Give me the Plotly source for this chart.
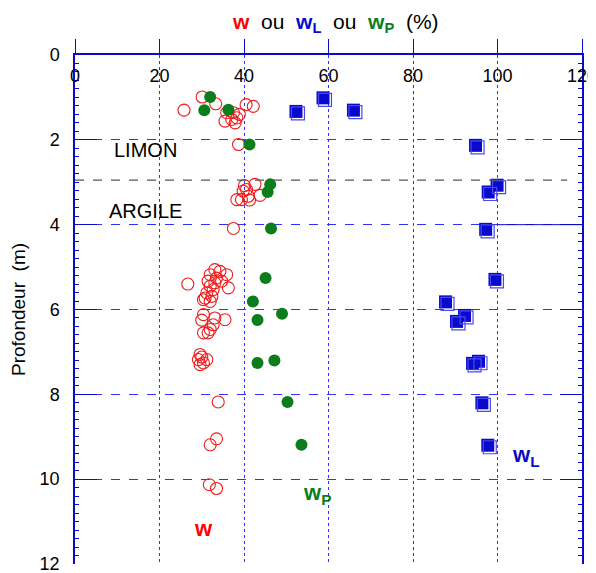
import plotly.graph_objects as go

# ---- data ----
w_val = [30.1, 25.8, 33.3, 40.5, 42.2, 35.9, 37.5, 35.5, 37.1, 38.3, 38.9, 37.9, 38.7,
         40.1, 42.6, 39.8, 40.6, 41.0, 43.8, 38.3, 39.4, 41.3, 37.5,
         26.7, 33.1, 34.3, 32.0, 35.9, 33.5, 31.5, 33.1, 34.7, 36.3, 32.0, 32.7, 31.2, 32.4, 30.8, 32.0, 30.4,
         30.4, 33.1, 35.5, 30.0, 32.7, 32.0, 30.4, 31.5,
         29.6, 30.0, 31.2, 29.2, 30.4, 29.6,
         33.9, 33.5, 32.0, 31.8, 33.5]
w_depth = [0.99, 1.30, 1.15, 1.17, 1.21, 1.36, 1.36, 1.56, 1.52, 1.48, 1.40, 1.60, 2.11,
           3.08, 3.05, 3.21, 3.17, 3.33, 3.31, 3.41, 3.41, 3.42, 4.09,
           5.40, 5.06, 5.10, 5.18, 5.18, 5.26, 5.33, 5.37, 5.33, 5.49, 5.45, 5.53, 5.61, 5.69, 5.73, 5.81, 5.77,
           6.12, 6.20, 6.24, 6.25, 6.36, 6.47, 6.55, 6.55,
           7.06, 7.12, 7.18, 7.18, 7.26, 7.30,
           8.18, 9.05, 9.19, 10.13, 10.22]

wp_val = [32.0, 30.6, 36.3, 41.3, 46.2, 45.6, 46.4, 45.1, 42.1, 49.0, 43.2, 43.2, 47.2, 50.3, 53.6]
wp_depth = [0.99, 1.30, 1.29, 2.11, 3.05, 3.23, 4.09, 5.26, 5.81, 6.10, 6.25, 7.26, 7.20, 8.18, 9.19]

wl_val = [52.3, 58.7, 65.9, 94.8, 99.9, 97.8, 97.2, 99.4, 87.7, 92.2, 90.3, 94.1, 95.5, 96.3, 97.7]
wl_depth = [1.33, 1.01, 1.30, 2.13, 3.07, 3.23, 4.11, 5.29, 5.82, 6.14, 6.28, 7.27, 7.22, 8.20, 9.20]

x_ticks = [0, 20, 40, 60, 80, 100, 120]
y_ticks = [0, 2, 4, 6, 8, 10, 12]
boundary_depth = 2.95

BLUE = "#0a0acc"
GRID = "#3030ff"
RED = "#ee1c1c"
GREEN = "#0b7d1b"

fig = go.Figure()

# shadow of squares (offset axes)
fig.add_trace(go.Scatter(x=wl_val, y=wl_depth, mode="markers", xaxis="x2", yaxis="y2",
                         marker=dict(symbol="square-open", size=13, color="#4a4af0",
                                     line=dict(width=1.2, color="#4a4af0")),
                         showlegend=False, hoverinfo="skip"))
# invisible carrier trace for the tick-label axis
fig.add_trace(go.Scatter(x=wl_val, y=wl_depth, mode="markers", xaxis="x3", yaxis="y",
                         marker=dict(size=1, opacity=0), showlegend=False, hoverinfo="skip"))
fig.add_trace(go.Scatter(x=w_val, y=w_depth, mode="markers",
                         marker=dict(symbol="circle-open", size=12, color=RED,
                                     line=dict(width=1.1, color=RED)),
                         showlegend=False))
fig.add_trace(go.Scatter(x=wp_val, y=wp_depth, mode="markers",
                         marker=dict(symbol="circle", size=12, color=GREEN,
                                     line=dict(width=0)),
                         showlegend=False))
fig.add_trace(go.Scatter(x=wl_val, y=wl_depth, mode="markers",
                         marker=dict(symbol="square", size=13, color=BLUE,
                                     line=dict(width=0)),
                         showlegend=False))

# boundary line
fig.add_shape(type="line", x0=0, x1=116.5, y0=boundary_depth, y1=boundary_depth,
              xref="x", yref="y", line=dict(color="#555555", width=1.3, dash="dash"))
fig.add_shape(type="line", x0=100, x1=120, y0=4, y1=4,
              xref="x", yref="y", line=dict(color=BLUE, width=1))

font = "Liberation Sans, Arial, sans-serif"

anns = [
    dict(x=16.6, y=2.23, text="LIMON", font=dict(size=20, color="black")),
    dict(x=16.8, y=3.67, text="ARGILE", font=dict(size=20, color="black")),
    dict(x=30.3, y=11.17, text="<b>w</b>", font=dict(size=22, color="#ff0000")),
    dict(x=57.3, y=10.34, text="<b>w<sub>P</sub></b>", font=dict(size=22, color=GREEN)),
    dict(x=106.8, y=9.45, text="<b>w<sub>L</sub></b>", font=dict(size=22, color=BLUE)),
]
for a in anns:
    a.update(xref="x", yref="y", showarrow=False)
    fig.add_annotation(**a)

fig.add_annotation(
    xref="paper", yref="paper", x=0.513, y=1.062, showarrow=False,
    xanchor="center", yanchor="middle",
    text=('<b><span style="color:#ff0000">w</span></b>  ou  '
          '<b><span style="color:#0a0acc">w<sub>L</sub></span></b>  ou  '
          '<b><span style="color:#0b7d1b">w<sub>P</sub></span></b>  (%)'),
    font=dict(size=21, color="black"))

fig.update_layout(
    template="none",
    width=588, height=565,
    margin=dict(l=67, r=14, t=47, b=9),
    paper_bgcolor="white", plot_bgcolor="white",
    font=dict(family=font, size=18, color="black"),
    xaxis=dict(range=[-0.0001, 120.0001], side="top", tickvals=x_ticks, automargin=False,
               ticks="outside", ticklen=14, tickcolor=BLUE, tickwidth=1,
               showticklabels=False,
               showline=True, linecolor=BLUE, linewidth=1.5,
               showgrid=True, gridcolor=GRID, griddash="dot", gridwidth=1,
               zeroline=False),
    xaxis3=dict(range=[-0.0001, 120.0001], overlaying="x", side="bottom", anchor="free",
                position=0.985, tickvals=x_ticks, automargin=False,
                ticks="", showline=False, showgrid=False, zeroline=False,
                ticklabeloverflow="allow", tickfont=dict(size=18)),
    yaxis=dict(range=[12.0001, -0.0001], tickvals=y_ticks, automargin=False,
               ticks="inside", ticklen=22, tickcolor=BLUE, tickwidth=1,
               ticklabelstandoff=10, ticklabeloverflow="allow",
               minor=dict(dtick=0.2, ticks="inside", ticklen=4, tickcolor=BLUE, showgrid=False),
               showline=True, linecolor=BLUE, linewidth=1.5, mirror="ticks",
               showgrid=True, gridcolor=GRID, griddash="dash", gridwidth=1,
               zeroline=False,
               title=dict(text="Profondeur  (m)", font=dict(size=19), standoff=14)),
    xaxis2=dict(range=[-0.47, 119.53], overlaying="x", visible=False, showgrid=False,
                zeroline=False),
    yaxis2=dict(range=[11.953, -0.047], overlaying="y", visible=False, showgrid=False,
                zeroline=False),
)

fig.write_html("out.html")
